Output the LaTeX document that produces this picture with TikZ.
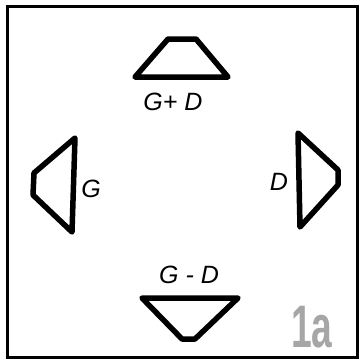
\documentclass[tikz,border=0pt]{standalone}
\usepackage{fontspec}
\setmainfont{Liberation Sans}

\tikzset{
  shapeline/.style={black, line width=5.5pt, line join=round},
  lbl/.style={font=\fontsize{25}{25}\selectfont\itshape, inner sep=0pt}
}

\begin{document}
\begin{tikzpicture}[x=1pt, y=-1pt]
\useasboundingbox (0,0) rectangle (359,362);
% frame
\draw[black, line width=3pt] (7,6) rectangle (357,357);

% G+D
\draw[shapeline] (135,77) -- (228,77) -- (196,39) -- (168,39) -- cycle;
\node[lbl] (gpd) at (173,102) {G+ D};

% G
\draw[shapeline] (75,138) -- (72,232) -- (33,195) -- (34,173) -- cycle;
\node[lbl] (g) at (91,189) {G};

% D
\draw[shapeline] (298,133) -- (300,227) -- (338,185) -- (338,170) -- cycle;
\node[lbl] (d) at (279,182) {D};

% G-D
\draw[shapeline] (142,298) -- (238,298) -- (195,339) -- (182,339) -- cycle;
\node[lbl] (gmd) at (189,275) {G - D};

%\filldraw[black] (0,0) circle (2pt);
\node[gray!70, font=\fontsize{60}{60}\selectfont\bfseries, xscale=0.62, inner sep=0pt] (lab) at (312,327) {1a};
\end{tikzpicture}
\end{document}
